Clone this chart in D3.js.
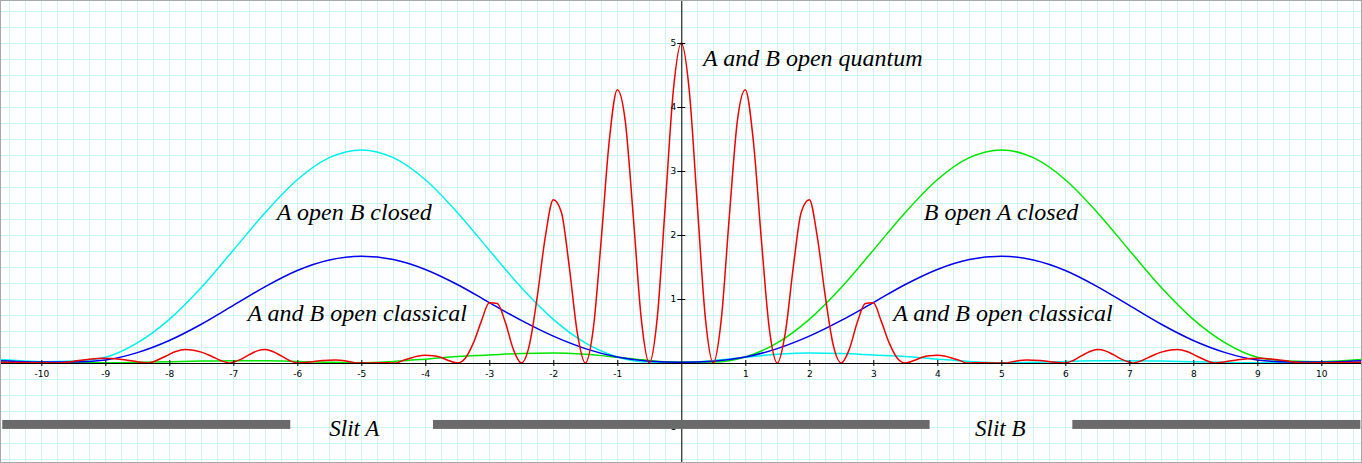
<!DOCTYPE html>
<html>
<head>
<meta charset="utf-8">
<script src="https://cdn.jsdelivr.net/npm/d3@7"></script>
<style>
html,body{margin:0;padding:0;background:#fff;overflow:hidden;}
svg{display:block;}
</style>
</head>
<body>
<svg id="chart" width="1362" height="463"></svg>
<script>
// ---------- data ----------
const xTicks = [-10,-9,-8,-7,-6,-5,-4,-3,-2,-1,1,2,3,4,5,6,7,8,9,10];
const yTicks = [-1,1,2,3,4,5];

const sampleX = [-10.65,-10.5,-10,-9.5,-9,-8.5,-8,-7.5,-7,-6.5,-6,-5.5,-5,-4.5,-4,-3.5,-3,-2.5,-2,-1.5,-1,-0.5,0,
  0.5,1,1.5,2,2.5,3,3.5,4,4.5,5,5.5,6,6.5,7,7.5,8,8.5,9,9.5,10,10.5,10.65];
const aOpenBClosed = [0.055,0.045,0.02,0.03,0.09,0.314,0.682,1.18,1.763,2.353,2.864,3.208,3.33,3.208,2.864,2.353,1.763,1.18,0.682,0.314,0.095,0.015,0.01,
  0.04,0.09,0.135,0.155,0.15,0.125,0.1,0.06,0.025,0.005,0.01,0.025,0.035,0.035,0.03,0.02,0.01,0.003,0.002,0.008,0.015,0.017];
const bOpenAClosed = [0.017,0.015,0.008,0.002,0.003,0.01,0.02,0.03,0.035,0.035,0.025,0.01,0.005,0.025,0.06,0.1,0.125,0.15,0.155,0.135,0.09,0.04,0.01,
  0.015,0.095,0.314,0.682,1.18,1.763,2.353,2.864,3.208,3.33,3.208,2.864,2.353,1.763,1.18,0.682,0.314,0.09,0.03,0.02,0.045,0.055];
const classical = [0.036,0.03,0.014,0.016,0.047,0.162,0.351,0.605,0.899,1.194,1.445,1.609,1.668,1.617,1.462,1.227,0.944,0.665,0.419,0.225,0.093,0.028,0.01,
  0.028,0.093,0.225,0.419,0.665,0.944,1.227,1.462,1.617,1.668,1.609,1.445,1.194,0.899,0.605,0.351,0.162,0.047,0.016,0.014,0.03,0.036];

const quantumX = [-10.65,-10.3,-10,-9.75,-9.6,-9.45,-9.25,-9.05,-8.9,-8.7,-8.5,-8.33,-8.2,-8.05,-7.9,-7.75,-7.65,-7.5,-7.35,-7.2,-7.05,-7,-6.875,-6.75,-6.625,-6.5,-6.375,-6.25,-6.125,-6,-5.8,-5.6,-5.4,-5.2,-5.05,-4.9,-4.75,-4.6,-4.45,-4.375,-4.25,-4.125,-4,-3.875,-3.75,-3.625,-3.5,-3.375,-3.25,-3.125,-3,-2.875,-2.75,-2.625,-2.5,-2.375,-2.25,-2.125,-2,-1.875,-1.75,-1.625,-1.5,-1.375,-1.25,-1.125,-1,-0.875,-0.75,-0.625,-0.5,-0.375,-0.25,-0.125,
  0,
  0.125,0.25,0.375,0.5,0.625,0.75,0.875,1,1.125,1.25,1.375,1.5,1.625,1.75,1.875,2,2.125,2.25,2.375,2.5,2.625,2.75,2.875,3,3.125,3.25,3.375,3.5,3.625,3.75,3.875,4,4.125,4.25,4.375,4.45,4.6,4.75,4.9,5.05,5.2,5.4,5.6,5.8,6,6.125,6.25,6.375,6.5,6.625,6.75,6.875,7,7.05,7.2,7.35,7.5,7.65,7.75,7.9,8.05,8.2,8.33,8.5,8.7,8.9,9.05,9.25,9.45,9.6,9.75,10,10.3,10.65];
const quantum = [0.01,0.008,0.003,0,0.012,0.035,0.06,0.075,0.07,0.05,0.02,0,0.04,0.11,0.18,0.21,0.205,0.17,0.11,0.04,0,0.012,0.06,0.13,0.19,0.21,0.175,0.11,0.04,0,0.015,0.04,0.047,0.025,0,0.001,0.003,0.003,0,0.03,0.07,0.105,0.12,0.115,0.085,0.035,0,0.075,0.31,0.65,0.94,0.93,0.635,0.215,0,0.275,1.04,1.97,2.55,2.36,1.5,0.47,0,0.536,1.94,3.476,4.27,3.775,2.285,0.686,0,0.714,2.475,4.25,
  5.0,
  4.25,2.475,0.714,0,0.686,2.285,3.775,4.27,3.476,1.94,0.536,0,0.47,1.5,2.36,2.55,1.97,1.04,0.275,0,0.215,0.635,0.93,0.94,0.65,0.31,0.075,0,0.035,0.085,0.115,0.12,0.105,0.07,0.03,0,0.003,0.003,0.001,0,0.025,0.047,0.04,0.015,0,0.04,0.11,0.175,0.21,0.19,0.13,0.06,0.012,0,0.04,0.11,0.17,0.205,0.21,0.18,0.11,0.04,0,0.02,0.05,0.07,0.075,0.06,0.035,0.012,0,0.003,0.008,0.01];

const wallStart = [-10.61,-3.88,6.11];
const wallEnd   = [-6.11, 3.88,10.61];
const slitNames = ["Slit A","Slit B"];
const curveLabels = ["A and B open quantum","A open B closed","B open A closed","A and B open classical","A and B open classical"];

// ---------- layout ----------
const W = 1362, H = 463;
const x = d3.scaleLinear().domain([-681.3/64, (W-681.3)/64]).range([0, W]);
const y = d3.scaleLinear().domain([-100/64, 363/64]).range([H, 0]);
const svg = d3.select("#chart");

// grid
const gx = d3.range(-42, 43).map(i => i*0.25);
const gy = d3.range(-6, 23).map(i => i*0.25);
const grid = svg.append("g").attr("stroke","#cdf5f5").attr("stroke-width",1).attr("shape-rendering","crispEdges");
grid.selectAll("line.v").data(gx).join("line").attr("class","v")
  .attr("x1",d=>Math.round(x(d))+0.5).attr("x2",d=>Math.round(x(d))+0.5).attr("y1",0).attr("y2",H);
grid.selectAll("line.h").data(gy).join("line").attr("class","h")
  .attr("y1",d=>Math.round(y(d))+0.5).attr("y2",d=>Math.round(y(d))+0.5).attr("x1",0).attr("x2",W);

// curves
const mk = (xs, ys) => xs.map((v,i)=>[v, ys[i]]);
const line = d3.line().x(d=>x(d[0])).y(d=>y(d[1])).curve(d3.curveMonotoneX);
const series = [
  {pts: mk(sampleX, aOpenBClosed), color:"#00f0f0"},
  {pts: mk(sampleX, bOpenAClosed), color:"#00e600"},
  {pts: mk(sampleX, classical), color:"#0000f0"},
  {pts: mk(quantumX, quantum), color:"#f00000"}
];
svg.append("g").selectAll("path").data(series).join("path")
  .attr("d", d=>line(d.pts)).attr("fill","none").attr("stroke",d=>d.color).attr("stroke-width",1.5);

// axes
const xAxis = svg.append("g").attr("transform",`translate(0,${y(0)})`)
  .call(d3.axisBottom(x).tickValues(xTicks).tickFormat(d=>String(d)).tickSizeInner(3).tickSizeOuter(0).tickPadding(5));
xAxis.selectAll(".tick line").attr("y1",-3);
const yAxis = svg.append("g").attr("transform",`translate(${x(0)},0)`)
  .call(d3.axisLeft(y).tickValues(yTicks).tickFormat(d=>String(d)).tickSizeInner(4).tickSizeOuter(0).tickPadding(1));
yAxis.selectAll(".tick line").attr("x1",4);
[xAxis,yAxis].forEach(a=>{
  a.selectAll("text").attr("font-family","'DejaVu Sans', Verdana, sans-serif").attr("font-size",9).attr("fill","#000");
  a.select(".domain").attr("stroke","#000");
});

// slit walls
svg.append("g").selectAll("rect").data(wallStart).join("rect")
  .attr("x",(d,i)=>x(d)).attr("width",(d,i)=>x(wallEnd[i])-x(d))
  .attr("y",y(-0.89)).attr("height",y(-1.03)-y(-0.89)).attr("fill","#6a6a6a");

// labels
const serif = "'Liberation Serif','Times New Roman',serif";
const labPos = [[0.34,4.64],[-6.32,2.23],[3.79,2.23],[-6.78,0.656],[3.31,0.656]];
svg.append("g").selectAll("text").data(curveLabels).join("text")
  .attr("x",(d,i)=>x(labPos[i][0])).attr("y",(d,i)=>y(labPos[i][1]))
  .attr("font-family",serif).attr("font-style","italic").attr("font-size",24).attr("fill","#000").text(d=>d);
const slitPos = [[-5.5,-1.14],[4.59,-1.14]];
svg.append("g").selectAll("text").data(slitNames).join("text")
  .attr("x",(d,i)=>x(slitPos[i][0])).attr("y",(d,i)=>y(slitPos[i][1]))
  .attr("font-family",serif).attr("font-style","italic").attr("font-size",23).attr("fill","#000").text(d=>d);

// border
svg.append("rect").attr("x",0.5).attr("y",0.5).attr("width",W-1).attr("height",H-1)
  .attr("fill","none").attr("stroke","#a8a8a8");
</script>
</body>
</html>
